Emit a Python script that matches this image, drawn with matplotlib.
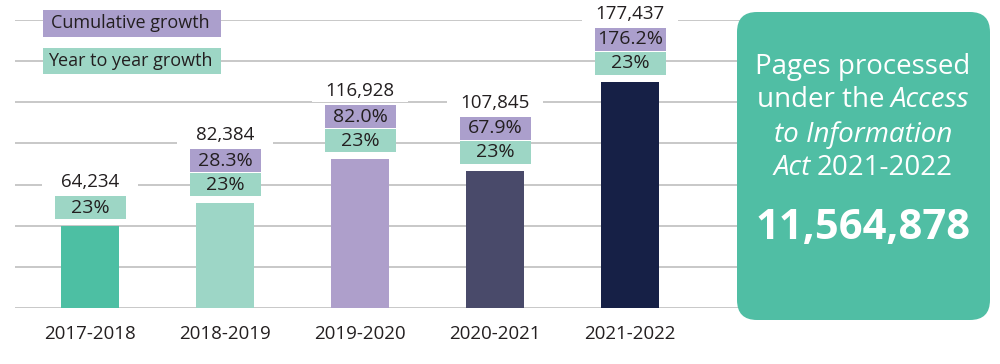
import matplotlib.pyplot as plt
from matplotlib.patches import Rectangle, FancyBboxPatch

plt.rcParams['font.family'] = ['Open Sans', 'DejaVu Sans']

years = ['2017-2018', '2018-2019', '2019-2020', '2020-2021', '2021-2022']
pages = [64234, 82384, 116928, 107845, 177437]
cumulative = [None, '28.3%', '82.0%', '67.9%', '176.2%']
year_growth = ['23%', '23%', '23%', '23%', '23%']
bar_colors = ['#4dbfa3', '#9dd6c6', '#ae9fcb', '#494a6a', '#162046']

purple = '#ab9fcc'
mint = '#9dd6c5'
teal = '#50bea4'
grid_col = '#c4c4c4'
txt_col = '#231f20'

W, H = 1000, 364
fig = plt.figure(figsize=(W / 100, H / 100), dpi=100)

# axes: gridlines from y=20px to baseline y=308px
ax = fig.add_axes([15 / W, 1 - 308 / H, (745 - 15) / W, 288 / H])
py = 785.0          # data units per pixel (y)
ymax = 288 * py
px = 1 / 135.0      # data units per pixel (x), bars 135px apart
ax.set_ylim(0, ymax)
ax.set_xlim((15 - 90) * px, (745 - 90) * px)
ax.set_yticks([ymax * k / 7 for k in range(8)])
ax.yaxis.grid(True, color=grid_col, linewidth=1.3)
ax.set_axisbelow(True)
for s in ax.spines.values():
    s.set_visible(False)
ax.tick_params(axis='y', left=False, labelleft=False)
ax.tick_params(axis='x', bottom=False, pad=9, labelsize=13.5, labelcolor=txt_col)

xs = list(range(len(years)))
ax.bar(xs, pages, width=58 * px, color=bar_colors, zorder=2)
ax.set_xticks(xs)
ax.set_xticklabels(years)


def label_box(x, y0, text, color, h=23):
    ax.add_patch(Rectangle((x - 35.5 * px, y0), 71 * px, h * py, facecolor=color,
                           edgecolor='none', zorder=3, clip_on=False))
    ax.text(x, y0 + h / 2 * py, text, ha='center', va='center', fontsize=14,
            color=txt_col, zorder=4)


for i, v in enumerate(pages):
    label_box(i, v + 7 * py, year_growth[i], mint)
    if cumulative[i]:
        label_box(i, v + 31 * py, cumulative[i], purple)
        ny = v + 68 * py
    else:
        ny = v + 44 * py
    ax.add_patch(Rectangle((i - 48 * px, ny - 11 * py), 96 * px, 22 * py, facecolor='white',
                           edgecolor='none', zorder=3, clip_on=False))
    ax.text(i, ny, f'{v:,}', ha='center', va='center', fontsize=13.5, color=txt_col, zorder=4)

# legend boxes
for (top, bot, text, color) in [(10, 37, 'Cumulative growth', purple),
                                (48, 74, 'Year to year growth', mint)]:
    fig.add_artist(Rectangle((43 / W, 1 - bot / H), 178 / W, (bot - top) / H,
                             transform=fig.transFigure, facecolor=color, edgecolor='none', zorder=3))
    fig.text(130 / W, 1 - (top + bot) / 2 / H, text, ha='center', va='center',
             fontsize=13, color=txt_col, zorder=4)

# right panel
fig.add_artist(FancyBboxPatch((737 / 100, (H - 320) / 100), (990 - 737) / 100, (320 - 12) / 100,
                              boxstyle='round,pad=0,rounding_size=0.2', transform=fig.dpi_scale_trans,
                              facecolor=teal, edgecolor='none', zorder=5))

renderer = fig.canvas.get_renderer()


def mixed_line(parts, cy, size=20, gap=6):
    texts = [fig.text(0, 1 - cy / H, s, style=st, ha='left', va='center', fontsize=size,
                      color='white', zorder=6) for s, st in parts]
    widths = [t.get_window_extent(renderer).width for t in texts]
    x = 863 - (sum(widths) + gap * (len(parts) - 1)) / 2
    for t, w in zip(texts, widths):
        t.set_x(x / W)
        x += w + gap


mixed_line([('Pages processed', 'normal')], 67)
mixed_line([('under the', 'normal'), ('Access', 'italic')], 100)
mixed_line([('to Information', 'italic')], 135)
mixed_line([('Act', 'italic'), ('2021-2022', 'normal')], 168)
fig.text(863 / W, 1 - 228 / H, '11,564,878', ha='center', va='center', fontsize=30,
         fontweight='bold', color='white', zorder=6)

fig.savefig('out.png', dpi=100)
